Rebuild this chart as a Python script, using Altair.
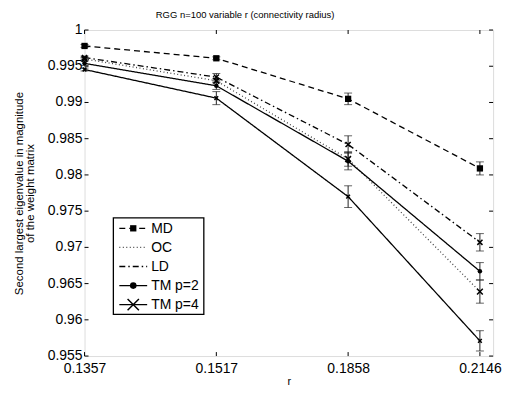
import altair as alt
import pandas as pd

series = ["MD", "OC", "LD", "TM p=2", "TM p=4"]
r_labels = ["0.1357", "0.1517", "0.1858", "0.2146"]
x_idx = [1, 2, 3, 4]

md = [0.9978, 0.9961, 0.9905, 0.9809]
md_err = [0.0002, 0.0002, 0.0008, 0.0009]
oc = [0.9960, 0.9930, 0.9822, 0.9639]
oc_err = [0.0002, 0.0003, 0.0010, 0.0016]
ld = [0.9962, 0.9935, 0.9842, 0.9707]
ld_err = [0.0002, 0.0005, 0.0012, 0.0012]
tm2 = [0.9954, 0.9923, 0.9819, 0.9667]
tm2_err = [0.0003, 0.0005, 0.0012, 0.0012]
tm4 = [0.99455, 0.9906, 0.9770, 0.9571]
tm4_err = [0.0002, 0.0009, 0.0015, 0.0014]

y_ticks = [0.955, 0.96, 0.965, 0.97, 0.975, 0.98, 0.985, 0.99, 0.995, 1.0]
y_tick_labels = ["0.955", "0.96", "0.965", "0.97", "0.975", "0.98", "0.985", "0.99", "0.995", "1"]

vals = [md, oc, ld, tm2, tm4]
errs = [md_err, oc_err, ld_err, tm2_err, tm4_err]
rows = []
for s, v, e in zip(series, vals, errs):
    for xi, vi, ei in zip(x_idx, v, e):
        rows.append({"series": s, "x": xi, "value": vi, "lo": vi - ei, "hi": vi + ei})
df = pd.DataFrame(rows)

W, H = 411, 328
FONT = "Liberation Sans"

dash_range = [[6, 4], [1, 2.5], [6, 3, 1.5, 3], [1, 0], [1, 0]]
stroke_range = ["black", "#444444", "black", "black", "black"]
XSHAPE = "M-1,-1L1,1M-1,1L1,-1"
shape_range = ["square", XSHAPE, XSHAPE, "circle", XSHAPE]
size_range = [40, 14, 14, 45, 130]

x_label_expr = "[" + ",".join("'%s'" % l for l in r_labels) + "][datum.value - 1]"

xscale = alt.Scale(domain=[1, 4.1], nice=False, zero=False)
yscale = alt.Scale(domain=[0.955, 1.0], nice=False, zero=False)

X = alt.X("x:Q", scale=xscale,
          axis=alt.Axis(values=x_idx, labelExpr=x_label_expr, title="r", ticks=False,
                        domain=False, grid=False, labelFontSize=14, titleFontSize=11,
                        titleFontWeight="normal", labelPadding=6, titlePadding=0,
                        labelOverlap=False, labelFlush=False, labelBound=False,
                        labelFont=FONT, titleFont=FONT, labelColor="black", titleColor="black"))
Y = alt.Y("value:Q", scale=yscale,
          axis=alt.Axis(values=y_ticks, labels=False,
                        title=["Second largest eigenvalue in magnitude", "of the weight matrix"],
                        ticks=False, domain=False, grid=False,
                        titleFontSize=11.5, titleFontWeight="normal", titleLineHeight=11,
                        titlePadding=49, titleFont=FONT, titleColor="black"))

base = alt.Chart(df)
sdash = alt.StrokeDash("series:N", scale=alt.Scale(domain=series, range=dash_range), legend=None)
scolor = alt.Stroke("series:N", scale=alt.Scale(domain=series, range=stroke_range), legend=None)

lines = base.mark_line(strokeWidth=1.3).encode(x=X, y=Y, strokeDash=sdash, stroke=scolor, detail="series:N")

ebar = base.mark_rule(strokeWidth=1, color="#222222").encode(x="x:Q", y="lo:Q", y2="hi:Q")
cap_lo = base.mark_tick(orient="horizontal", size=8, thickness=1, color="#222222").encode(x="x:Q", y="lo:Q")
cap_hi = base.mark_tick(orient="horizontal", size=8, thickness=1, color="#222222").encode(x="x:Q", y="hi:Q")

shape_enc = alt.Shape("series:N", scale=alt.Scale(domain=series, range=shape_range), legend=None)
size_enc = alt.Size("series:N", scale=alt.Scale(domain=series, range=size_range), legend=None)

filled_pts = base.transform_filter(
    alt.FieldOneOfPredicate(field="series", oneOf=["MD", "TM p=2"])
).mark_point(filled=True, color="black", opacity=1).encode(x="x:Q", y="value:Q", shape=shape_enc, size=size_enc)
open_pts = base.transform_filter(
    alt.FieldOneOfPredicate(field="series", oneOf=["OC", "LD", "TM p=4"])
).mark_point(filled=False, color="black", strokeWidth=1.5, opacity=1).encode(x="x:Q", y="value:Q", shape=shape_enc, size=size_enc)

# inward axis ticks on all four sides, and y tick labels
yt = alt.Chart(pd.DataFrame({"value": y_ticks, "label": y_tick_labels}))
xt = alt.Chart(pd.DataFrame({"x": x_idx}))
tick_l = yt.mark_rule(color="black").encode(y="value:Q", x=alt.value(0), x2=alt.value(4))
tick_r = yt.mark_rule(color="black").encode(y="value:Q", x=alt.value(W - 4), x2=alt.value(W))
tick_b = xt.mark_rule(color="black").encode(x="x:Q", y=alt.value(H - 4), y2=alt.value(H))
tick_t = xt.mark_rule(color="black").encode(x="x:Q", y=alt.value(0), y2=alt.value(4))
ylabels = yt.mark_text(align="right", baseline="middle", fontSize=14, font=FONT, color="black").encode(
    y="value:Q", x=alt.value(-2), text="label:N")

# legend
LX0, LX1, LY0, LY1 = 29, 120, 189, 286
leg_layers = [
    alt.Chart(pd.DataFrame({"a": [0]})).mark_rect(fill="white", stroke="black", strokeWidth=1.3).encode(
        x=alt.value(LX0), x2=alt.value(LX1), y=alt.value(LY0), y2=alt.value(LY1))
]
for i, s in enumerate(series):
    ly = 199.5 + i * 19.2
    d = pd.DataFrame({"series": [s]})
    c = alt.Chart(d)
    leg_layers.append(c.mark_rule(strokeWidth=1.3, strokeDash=dash_range[i], color=stroke_range[i]).encode(
        x=alt.value(35), x2=alt.value(63), y=alt.value(ly)))
    if s in ("MD", "TM p=2"):
        leg_layers.append(c.mark_point(filled=True, color="black", opacity=1, shape=shape_range[i],
                                       size=size_range[i]).encode(x=alt.value(49), y=alt.value(ly)))
    elif s == "TM p=4":
        leg_layers.append(c.mark_point(filled=False, color="black", strokeWidth=1.5, opacity=1,
                                       shape=shape_range[i], size=size_range[i]).encode(
            x=alt.value(49), y=alt.value(ly)))
    leg_layers.append(c.mark_text(align="left", baseline="middle", fontSize=14, font=FONT, color="black").encode(
        x=alt.value(67), y=alt.value(ly + 0.5), text="series:N"))

chart = alt.layer(
    lines, ebar, cap_lo, cap_hi, filled_pts, open_pts,
    tick_l, tick_r, tick_b, tick_t, ylabels, *leg_layers
).properties(
    width=W, height=H,
    title=alt.TitleParams("RGG n=100 variable r (connectivity radius)", fontSize=9.5,
                          fontWeight="normal", font=FONT, color="black", offset=4,
                          anchor="middle", frame="group", dx=-44),
    padding={"left": 6, "top": 0, "right": 5, "bottom": 3},
).configure_view(stroke="black", strokeWidth=1.2).configure(background="white")

chart.save("out.html", embed_options={"renderer": "svg", "actions": False})
